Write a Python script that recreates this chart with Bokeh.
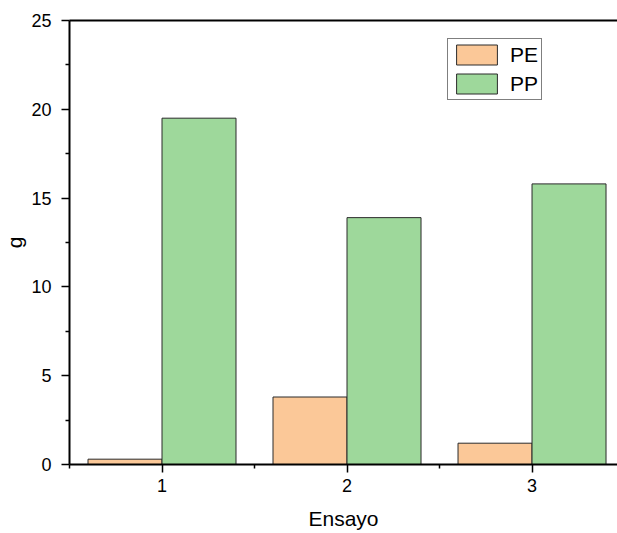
from bokeh.plotting import figure
from bokeh.models import (ColumnDataSource, FixedTicker, LinearAxis, Range1d,
                          Legend, LegendItem)
from bokeh.embed import file_html
from bokeh.resources import INLINE

ensayos = [1, 2, 3]
pe_values = [0.3, 3.8, 1.2]
pp_values = [19.5, 13.9, 15.8]
y_ticks = [0, 5, 10, 15, 20, 25]
x_ticks = [1, 2, 3]

FONT = "Liberation Sans"

src = ColumnDataSource(dict(
    x_pe=[e - 0.2 for e in ensayos],
    x_pp=[e + 0.2 for e in ensayos],
    pe=pe_values,
    pp=pp_values,
))

p = figure(width=617, height=533, output_backend="svg", toolbar_location=None,
           x_range=Range1d(0.5, 3.462), y_range=Range1d(0, 25),
           x_axis_type=None, y_axis_type=None,
           min_border_left=69, min_border_right=0, min_border_top=20,
           min_border_bottom=69)
p.outline_line_color = None
p.xgrid.visible = False
p.ygrid.visible = False
p.background_fill_color = "white"
p.border_fill_color = "white"

r_pe = p.vbar(x="x_pe", top="pe", width=0.4, bottom=0, source=src,
              fill_color="#FBC898", line_color="#2a2a2a", line_width=1)
r_pp = p.vbar(x="x_pp", top="pp", width=0.4, bottom=0, source=src,
              fill_color="#9ED89B", line_color="#2a2a2a", line_width=1)

# left axis
ly = LinearAxis(ticker=FixedTicker(ticks=y_ticks,
                                   minor_ticks=[2.5, 7.5, 12.5, 17.5, 22.5]))
ly.axis_label = "g"
ly.axis_label_text_font = FONT
ly.axis_label_text_font_style = "normal"
ly.axis_label_text_font_size = "21px"
ly.axis_label_text_color = "black"
ly.axis_label_standoff = 2
ly.major_label_text_font = FONT
ly.major_label_text_font_size = "18px"
ly.major_label_text_color = "black"
ly.major_label_standoff = 10
ly.major_tick_in = 0
ly.major_tick_out = 8
ly.minor_tick_in = 0
ly.minor_tick_out = 4
ly.axis_line_width = 2
ly.major_tick_line_width = 1.5
ly.minor_tick_line_width = 1.5
p.add_layout(ly, "left")

# bottom axis
bx = LinearAxis(ticker=FixedTicker(ticks=x_ticks, minor_ticks=[0.5, 1.5, 2.5]))
bx.axis_label = "Ensayo"
bx.axis_label_text_font = FONT
bx.axis_label_text_font_style = "normal"
bx.axis_label_text_font_size = "21px"
bx.axis_label_text_color = "black"
bx.axis_label_standoff = 12
bx.major_label_text_font = FONT
bx.major_label_text_font_size = "18px"
bx.major_label_text_color = "black"
bx.major_label_standoff = 6
bx.major_tick_in = 0
bx.major_tick_out = 8
bx.minor_tick_in = 0
bx.minor_tick_out = 4
bx.axis_line_width = 2
bx.major_tick_line_width = 1.5
bx.minor_tick_line_width = 1.5
p.add_layout(bx, "below")

# top axis line only
tx = LinearAxis(ticker=FixedTicker(ticks=[]))
tx.major_label_text_font_size = "0px"
tx.major_tick_line_color = None
tx.minor_tick_line_color = None
tx.axis_line_width = 2
tx.major_label_standoff = 0
p.add_layout(tx, "above")

legend = Legend(items=[LegendItem(label="PE", renderers=[r_pe]),
                       LegendItem(label="PP", renderers=[r_pp])],
                location=(378, 364))
legend.margin = 0
legend.padding = 3
legend.spacing = 4
legend.glyph_width = 51
legend.glyph_height = 25
legend.label_standoff = 8
legend.label_height = 25
legend.label_text_font = FONT
legend.label_text_font_size = "21px"
legend.label_text_color = "black"
legend.border_line_color = "black"
legend.border_line_width = 1
legend.background_fill_alpha = 1
p.add_layout(legend, "center")

open("out.html", "w").write(file_html(p, INLINE))
